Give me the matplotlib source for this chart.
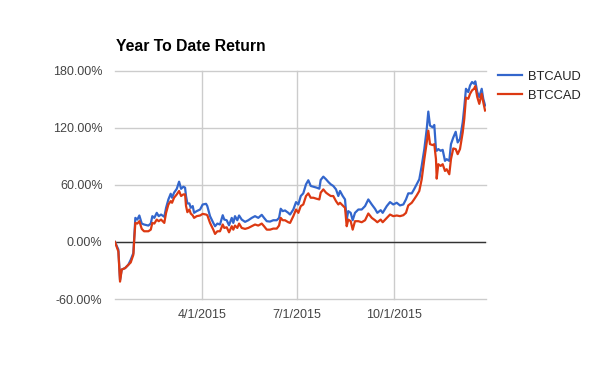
import matplotlib
matplotlib.use("Agg")
import matplotlib.pyplot as plt

# day of year 2015 (0 = Jan 1)
days = [7.3, 10.5, 12.1, 13.7, 16.9, 20.0, 22.3, 24.8, 25.7, 26.7, 28.6, 30.5, 32.8, 35.0,
        39.1, 41.4, 42.9, 44.8, 47.1, 49.0, 51.2, 54.3, 56.0, 58.2, 60.4, 61.7, 63.6, 66.2,
        68.4, 70.3, 72.5, 74.1, 75.0, 76.3, 78.2, 79.5, 81.4, 82.7, 85.2, 88.4, 90.9, 94.1,
        95.3, 97.9, 101.0, 102.7, 104.9, 107.4, 110.0, 111.5, 113.8, 116.0, 118.6, 120.1,
        121.7, 123.9, 125.6, 128.1, 131.3, 134.4, 137.7, 140.8, 143.9, 147.2, 149.4, 152.0,
        155.1, 158.2, 161.5, 163.7, 165.3, 167.2, 169.4, 172.5, 174.2, 177.3, 179.9, 182.1,
        184.4, 186.8, 189.4, 191.6, 193.9, 196.4, 199.6, 202.1, 203.4, 205.9, 208.5, 210.7,
        213.0, 215.4, 218.0, 220.2, 221.8, 224.4, 226.6, 228.2, 229.7, 232.0, 233.9, 236.1,
        239.3, 242.5, 245.7, 248.8, 252.1, 255.2, 257.4, 260.6, 262.5, 266.4, 269.5, 272.6,
        275.9, 279.0, 282.2, 284.7, 286.9, 290.2, 292.4, 294.9, 297.4, 299.7, 302.2, 304.5,
        306.0, 307.6, 310.2, 311.7, 313.3, 314.0, 315.5, 317.8, 319.7, 321.9, 323.5, 326.0,
        327.6, 329.8, 332.1, 334.0, 336.2, 338.8, 340.3, 341.9, 344.1, 345.8, 347.7, 349.6,
        350.8, 352.7, 354.6, 356.9, 358.4, 360.1]

btcaud = [0, -8, -40, -29, -27.5, -24, -18.7, -11.6, 6, 25.4, 23.6, 27.9, 19.4, 18.4,
          17.3, 19.4, 27.2, 25.4, 30.7, 27.2, 28.9, 26.5, 36, 44.8, 50.8, 46.6, 51.9, 56,
          63.5, 56, 58.2, 57.2, 48.4, 40.6, 40.6, 36, 37.8, 30.7, 32.5, 34.2, 39.5, 40.2,
          37.8, 27.2, 20.1, 16.6, 19.4, 18.4, 28.2, 23.6, 22.9, 17.6, 25.4, 20.1,
          27.2, 22.9, 27.9, 23.6, 21.2, 22.9, 25.4, 27.2, 25.4, 28.6, 25.4, 21.9,
          21.5, 22.9, 22.9, 25.4, 35, 32.5, 33.2, 30.7, 28.9, 34.2, 42, 39.5,
          48.4, 51.2, 60.7, 65, 59, 58.2, 57.2, 56.1, 65.3, 68.8, 66, 63.2,
          60.7, 59, 55.4, 48.4, 53.7, 48.4, 44.8, 23.6, 32.5, 30.7, 22.9, 30.7,
          34.2, 34.2, 37.8, 44.8, 39.5, 34.9, 30.7, 33.5, 30.7, 37.8, 42, 39.5,
          41.3, 38.5, 39.5, 44.8, 51.2, 51.2, 55.4, 60.7, 66, 80.1, 97.8, 119,
          137.3, 122.5, 120.7, 123.2, 97.8, 96, 97.8, 96, 97, 85.4, 87.2, 85.4,
          103, 110, 116, 104.8, 108.4, 126, 142, 161.3, 157.8, 164.8, 168.4, 166.6,
          169.1, 157.8, 152.5, 161.3, 150.7, 143.7]

btccad = [0, -10, -41.7, -29, -27.5, -24, -21.5, -13.4, 4, 20.1, 19.4, 21.9, 13.8, 11.3,
          11.3, 13, 20.1, 19.4, 23.6, 21.9, 23.6, 20.1, 30.7, 39.5, 43, 41.3, 46.6, 50.1,
          53.7, 48.4, 50.1, 50.1, 38, 31.4, 34.2, 30, 28, 25.4, 27.2, 27.9, 29.6, 28.9,
          28.2, 20.1, 13, 8.5, 11.3, 11.3, 18.4, 14.8, 15.5, 10.2, 16.6, 13,
          17.3, 14.8, 19.4, 14.8, 13.8, 14.8, 16.6, 18.4, 17.3, 19.4, 16.6, 13,
          13, 14.1, 14.1, 17.3, 25.4, 22.9, 22.9, 20.8, 20.1, 27.2, 34.2, 30.7,
          37.8, 39.5, 48.4, 51.2, 46.6, 46.6, 45.5, 44.8, 51.9, 55.4, 51.9, 50.1,
          48.4, 48.4, 43, 39.5, 41.3, 38.5, 36, 16.6, 23.6, 21.9, 13, 21.9,
          21.9, 20.8, 22.9, 30, 25.4, 22.9, 20.8, 23.6, 20.8, 25.4, 28.9, 27.2,
          27.9, 27.2, 28.2, 30.7, 38.5, 41.3, 44.8, 49, 53.7, 66, 87.2, 104.8,
          117.2, 103, 102, 103, 87.2, 66.7, 81.9, 80.1, 81.9, 74.8, 76.6, 71.3,
          87.2, 98.5, 97.8, 92.5, 97.8, 115.4, 129.6, 152, 150.7, 156, 159.6, 161.3,
          164.1, 152.5, 145.4, 156, 147.2, 138.4]

series_names = ["BTCAUD", "BTCCAD"]
y_ticks = [-60, 0, 60, 120, 180]
x_tick_days = [90, 181, 273]
x_tick_labels = ["4/1/2015", "7/1/2015", "10/1/2015"]
title = "Year To Date Return"

plt.rcParams['font.family'] = ['Liberation Sans', 'DejaVu Sans']

fig = plt.figure(figsize=(6.0, 3.71), dpi=100)
ax = fig.add_axes([115/600, 1 - 299/371, (486 - 115)/600, (299 - 71)/371])

ax.plot(days, btcaud, color='#3366CC', lw=1.6, label=series_names[0], zorder=3)
ax.plot(days, btccad, color='#DC3912', lw=1.6, label=series_names[1], zorder=4)

ax.set_xlim(7.3, 361)
ax.set_ylim(-60, 180)
ax.set_yticks(y_ticks)
ax.set_yticklabels([f"{v:.2f}%" for v in y_ticks])
ax.set_xticks(x_tick_days)
ax.set_xticklabels(x_tick_labels)

ax.grid(True, color='#CCCCCC', lw=1.0)
for gl in ax.get_ygridlines() + ax.get_xgridlines():
    gl.set_clip_on(False)
ax.set_axisbelow(True)
ax.axhline(0, color='#333333', lw=1.0, zorder=2)
for s in ax.spines.values():
    s.set_visible(False)
ax.tick_params(length=0, labelsize=9, colors='#444444')
ax.tick_params(axis='y', pad=9)
ax.tick_params(axis='x', pad=7)

fig.text(116/600, 1 - 50.7/371, title, fontsize=11.3, fontweight='bold',
         color='black', ha='left', va='baseline')

leg = ax.legend(loc='upper left', bbox_to_anchor=(498/600, 1 - 70.5/371),
                bbox_transform=fig.transFigure, frameon=False, fontsize=9.3,
                handlelength=1.85, handletextpad=0.5, labelspacing=0.55,
                borderaxespad=0, borderpad=0)
for t in leg.get_texts():
    t.set_color('#222222')

fig.savefig("out.png", dpi=100)
